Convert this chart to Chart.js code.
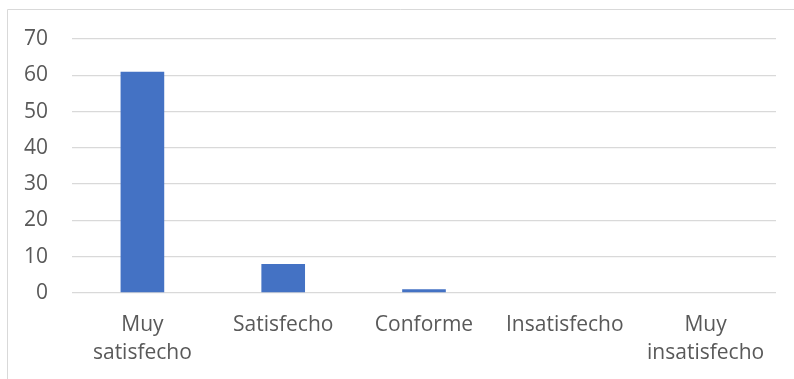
<!DOCTYPE html>
<html>
<head>
<meta charset="utf-8">
<script src="https://cdn.jsdelivr.net/npm/chart.js@4"></script>
<style>
  html, body { margin: 0; padding: 0; background: #ffffff; }
  #wrap { width: 794px; height: 379px; }
</style>
</head>
<body>
<div id="wrap"><canvas id="chart" width="794" height="379"></canvas></div>
<script>
// Survey responses by satisfaction level
const categories = [
  ['Muy', 'satisfecho'],
  'Satisfecho',
  'Conforme',
  'Insatisfecho',
  ['Muy', 'insatisfecho']
];
const responses = [61, 8, 1, 0, 0];
const yTicks = [0, 10, 20, 30, 40, 50, 60, 70];

const textColor = '#595959';
const gridColor = '#d9d9d9';
const barColor = '#4472C4';
const fontFamily = '"Open Sans", "Noto Sans", sans-serif';

// Frame around the chart (top and left edges inside the canvas)
const framePlugin = {
  id: 'frame',
  beforeDraw(chart) {
    const ctx = chart.ctx;
    ctx.save();
    ctx.strokeStyle = gridColor;
    ctx.lineWidth = 1;
    ctx.beginPath();
    ctx.moveTo(7.5, chart.height);
    ctx.lineTo(7.5, 9.5);
    ctx.lineTo(chart.width, 9.5);
    ctx.stroke();
    ctx.restore();
  }
};

new Chart(document.getElementById('chart'), {
  type: 'bar',
  data: {
    labels: categories,
    datasets: [{
      data: responses,
      backgroundColor: barColor,
      borderWidth: 0,
      categoryPercentage: 0.62,
      barPercentage: 0.5
    }]
  },
  options: {
    responsive: false,
    devicePixelRatio: 1,
    animation: false,
    layout: { padding: { top: 39, right: 18, left: 0, bottom: 0 } },
    plugins: {
      legend: { display: false },
      tooltip: { enabled: false }
    },
    scales: {
      x: {
        grid: { display: false, drawTicks: false },
        border: { display: false },
        ticks: {
          color: textColor,
          padding: 18,
          maxRotation: 0,
          autoSkip: false,
          font: { family: fontFamily, size: 21, lineHeight: 1.333 }
        },
        afterFit(scale) { scale.height = 86; }
      },
      y: {
        min: 0,
        max: 70,
        afterBuildTicks(scale) { scale.ticks = yTicks.map(v => ({ value: v })); },
        grid: { color: gridColor, lineWidth: 1.3, drawTicks: false },
        border: { display: false },
        ticks: {
          color: textColor,
          padding: 24,
          font: { family: fontFamily, size: 21 }
        },
        afterFit(scale) { scale.width = 72; }
      }
    }
  },
  plugins: [framePlugin]
});
</script>
</body>
</html>
